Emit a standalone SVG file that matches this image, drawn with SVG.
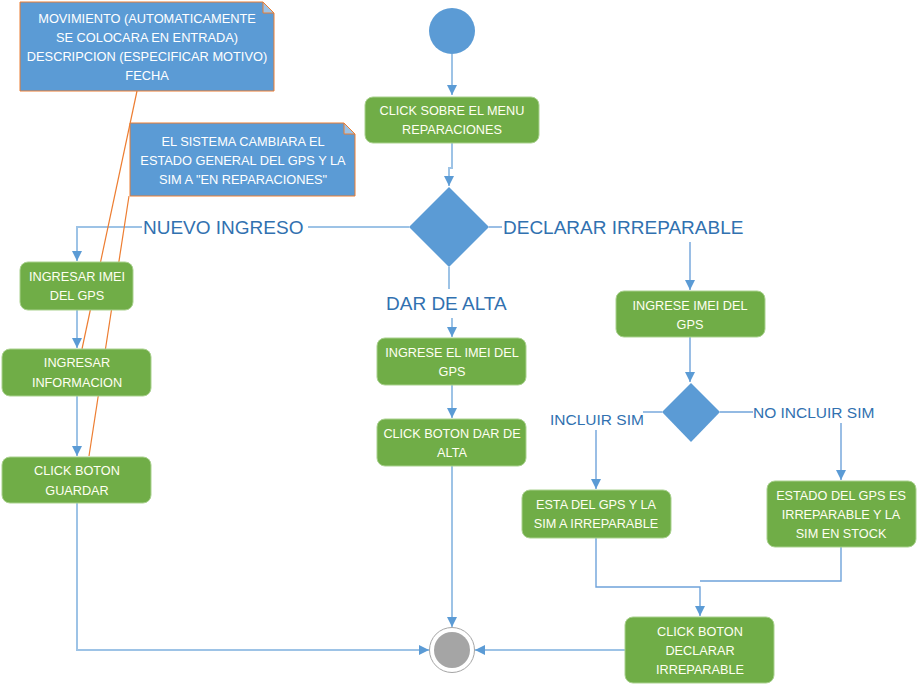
<svg xmlns="http://www.w3.org/2000/svg" width="918" height="687" viewBox="0 0 918 687">
<defs>
<style>
.box{fill:#70AD47;stroke:#A9D18E;stroke-width:1}
.bt{font-family:"Liberation Sans",Arial,sans-serif;font-size:12.7px;fill:#FFFFF2;text-anchor:middle}
.note{fill:#5B9BD5;stroke:#ED7D31;stroke-width:1}
.fold{fill:#9DC3E6;stroke:#ED7D31;stroke-width:1}
.nt{font-family:"Liberation Sans",Arial,sans-serif;font-size:12.8px;fill:#FFFFFF;text-anchor:middle}
.lbl{font-family:"Liberation Sans",Arial,sans-serif;font-size:19px;fill:#3171B0}
.lbs{font-family:"Liberation Sans",Arial,sans-serif;font-size:15.5px;fill:#3171B0}
.c1{fill:none;stroke:#9DC3E6;stroke-width:2}
.c2{fill:none;stroke:#6FA3DA;stroke-width:1.4}
.or{stroke:#ED7D31;stroke-width:1.2;fill:none}
.dia{fill:#5B9BD5}
</style>
<marker id="ah" markerUnits="userSpaceOnUse" markerWidth="10" markerHeight="10" viewBox="0 0 10 10" refX="10" refY="5" orient="auto">
<path d="M0,0 L10,5 L0,10 Z" fill="#5B9BD5"/>
</marker>
</defs>

<g id="connectors">
<path class="c1" d="M452,54 V95" marker-end="url(#ah)"/>
<path class="c1" d="M452,143 V168 H449 V186" marker-end="url(#ah)"/>
<path class="c1" d="M409,227 H308"/>
<path class="c1" d="M142,227 H77 V261" marker-end="url(#ah)"/>
<path class="c1" d="M77,310 V348" marker-end="url(#ah)"/>
<path class="c1" d="M77,396 V456" marker-end="url(#ah)"/>
<path class="c1" d="M77,503 V650 H429" marker-end="url(#ah)"/>
<path class="c1" d="M449,267 V289"/>
<path class="c1" d="M452,318 V337" marker-end="url(#ah)"/>
<path class="c1" d="M452,385 V418" marker-end="url(#ah)"/>
<path class="c1" d="M452,466 V627" marker-end="url(#ah)"/>
<path class="c1" d="M625,650 H475" marker-end="url(#ah)"/>
<path class="c2" d="M489,227 H502"/>
<path class="c2" d="M690,242 V290" marker-end="url(#ah)"/>
<path class="c2" d="M690,337 V382" marker-end="url(#ah)"/>
<path class="c2" d="M662,412 H643"/>
<path class="c2" d="M720,412 H753"/>
<path class="c2" d="M596,430 V489" marker-end="url(#ah)"/>
<path class="c2" d="M841,423 V480" marker-end="url(#ah)"/>
<path class="c2" d="M596,538 V587 H700 V616" marker-end="url(#ah)"/>
<path class="c2" d="M841,547 V581 H700"/>
<path class="or" d="M137,91 L82,349"/>
<path class="or" d="M129,196 L89,456"/>
</g>

<g id="start">
<circle cx="452" cy="31" r="23" fill="#5B9BD5"/>
</g>

<g id="end">
<circle cx="452" cy="650" r="22.5" fill="#FFFFFF" stroke="#A5A5A5" stroke-width="1"/>
<circle cx="452" cy="650" r="18" fill="#A5A5A5"/>
</g>

<g id="note1">
<path class="note" d="M20,2 H263 L274,13 V91 H20 Z"/>
<path class="fold" d="M263,2 V13 H274 Z"/>
<text class="nt" x="147" y="23">MOVIMIENTO (AUTOMATICAMENTE</text>
<text class="nt" x="147" y="42">SE COLOCARA EN ENTRADA)</text>
<text class="nt" x="147" y="61">DESCRIPCION (ESPECIFICAR MOTIVO)</text>
<text class="nt" x="147" y="80">FECHA</text>
</g>

<g id="note2">
<path class="note" d="M130,123 H344 L355,134 V196 H130 Z"/>
<path class="fold" d="M344,123 V134 H355 Z"/>
<text class="nt" x="243" y="146">EL SISTEMA CAMBIARA EL</text>
<text class="nt" x="243" y="165">ESTADO GENERAL DEL GPS Y LA</text>
<text class="nt" x="243" y="184">SIM A "EN REPARACIONES"</text>
</g>

<g id="menu">
<rect class="box" x="365" y="97" width="174" height="46" rx="8"/>
<text class="bt" x="452" y="115">CLICK SOBRE EL MENU</text>
<text class="bt" x="452" y="134">REPARACIONES</text>
</g>

<g id="decision1">
<path class="dia" d="M449,187 L489,227 L449,267 L409,227 Z"/>
</g>

<g id="label-nuevo">
<text class="lbl" x="143" y="234">NUEVO INGRESO</text>
</g>
<g id="label-declarar">
<text class="lbl" x="503" y="234">DECLARAR IRREPARABLE</text>
</g>
<g id="label-alta">
<text class="lbl" x="386" y="310">DAR DE ALTA</text>
</g>

<g id="imei1">
<rect class="box" x="20" y="262" width="113" height="48" rx="8"/>
<text class="bt" x="77" y="281">INGRESAR IMEI</text>
<text class="bt" x="77" y="300">DEL GPS</text>
</g>
<g id="info">
<rect class="box" x="2" y="349" width="149" height="47" rx="8"/>
<text class="bt" x="77" y="367">INGRESAR</text>
<text class="bt" x="77" y="387">INFORMACION</text>
</g>
<g id="guardar">
<rect class="box" x="2" y="457" width="149" height="46" rx="8"/>
<text class="bt" x="77" y="475">CLICK BOTON</text>
<text class="bt" x="77" y="495">GUARDAR</text>
</g>

<g id="imei2">
<rect class="box" x="377" y="338" width="149" height="47" rx="8"/>
<text class="bt" x="452" y="357">INGRESE EL IMEI DEL</text>
<text class="bt" x="452" y="376">GPS</text>
</g>
<g id="alta">
<rect class="box" x="377" y="419" width="149" height="47" rx="8"/>
<text class="bt" x="452" y="438">CLICK BOTON DAR DE</text>
<text class="bt" x="452" y="457">ALTA</text>
</g>

<g id="imei3">
<rect class="box" x="616" y="291" width="149" height="46" rx="8"/>
<text class="bt" x="690" y="310">INGRESE IMEI DEL</text>
<text class="bt" x="690" y="329">GPS</text>
</g>

<g id="decision2">
<path class="dia" d="M691,383 L720,412 L691,442 L662,412 Z"/>
</g>
<g id="label-incluir">
<text class="lbs" x="550" y="425">INCLUIR SIM</text>
</g>
<g id="label-noincluir">
<text class="lbs" x="753" y="418">NO INCLUIR SIM</text>
</g>

<g id="sim-irreparable">
<rect class="box" x="522" y="490" width="149" height="48" rx="8"/>
<text class="bt" x="596" y="509">ESTA DEL GPS Y LA</text>
<text class="bt" x="596" y="528">SIM  A IRREPARABLE</text>
</g>
<g id="sim-stock">
<rect class="box" x="767" y="481" width="149" height="66" rx="8"/>
<text class="bt" x="841" y="500">ESTADO DEL GPS ES</text>
<text class="bt" x="841" y="519">IRREPARABLE Y LA</text>
<text class="bt" x="841" y="538">SIM  EN STOCK</text>
</g>
<g id="declarar">
<rect class="box" x="625" y="617" width="149" height="66" rx="8"/>
<text class="bt" x="700" y="636">CLICK BOTON</text>
<text class="bt" x="700" y="655">DECLARAR</text>
<text class="bt" x="700" y="674">IRREPARABLE</text>
</g>
</svg>
